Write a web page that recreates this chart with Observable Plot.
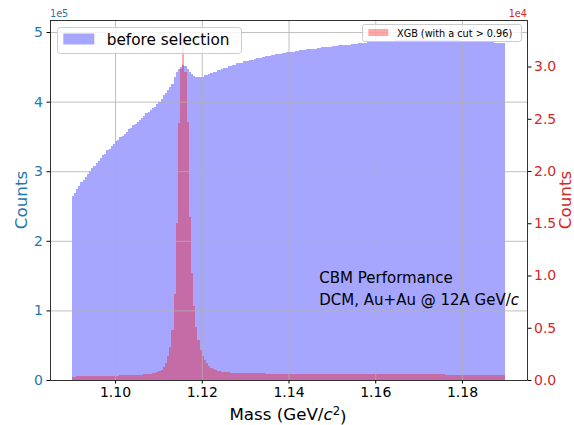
<!DOCTYPE html>
<html>
<head>
<meta charset="utf-8">
<script src="https://cdn.jsdelivr.net/npm/d3@7"></script>
<script src="https://cdn.jsdelivr.net/npm/@observablehq/plot@0.6"></script>
<style>
  html, body { margin: 0; padding: 0; background: #fff; }
  #chart { width: 574px; height: 425px; }
</style>
</head>
<body>
<div id="chart"></div>
<script>
// ---- data ----
const binLow = 1.09;        // GeV/c^2, first bin edge
const binWidth = 0.0005;    // GeV/c^2

// "before selection" counts per bin, in thousands (left axis)
const beforeSelectionK = [
  265, 269, 275, 279, 284, 287, 292, 296, 300, 305, 307, 312, 315, 319, 323, 325, 330, 332, 336, 339,
  343, 345, 349, 351, 354, 357, 360, 362, 366, 368, 371, 374, 377, 379, 383, 385, 388, 391, 393, 397,
  400, 404, 409, 413, 417, 421, 425, 436, 443, 447, 450, 453, 451, 447, 442, 439, 437, 436, 435, 435,
  436, 438, 438, 440, 441, 443, 443, 445, 446, 447, 449, 449, 451, 451, 453, 453, 455, 456, 456, 458,
  458, 459, 460, 460, 461, 462, 463, 463, 464, 465, 465, 466, 467, 467, 468, 468, 469, 470, 470, 471,
  471, 472, 472, 473, 473, 474, 474, 474, 475, 475, 476, 476, 476, 477, 477, 478, 478, 478, 479, 479,
  480, 480, 480, 481, 481, 481, 482, 482, 482, 483, 483, 483, 484, 484, 484, 484, 485, 485, 485, 485,
  486, 486, 486, 486, 487, 487, 487, 487, 487, 488, 488, 488, 488, 488, 488, 488, 489, 489, 488, 489,
  489, 489, 489, 489, 489, 489, 489, 489, 489, 489, 489, 488, 489, 488, 488, 488, 488, 488, 488, 487,
  487, 487, 487, 487, 487, 486, 486, 486, 486, 486, 485, 485, 485, 485, 485, 484, 484, 484, 484, 484
];

// "XGB (with a cut > 0.96)" counts per bin (right axis)
const xgbCounts = [
  330, 332, 338, 341, 346, 349, 355, 357, 362, 366, 370, 373, 379, 383, 388, 392, 398, 402, 408, 414,
  420, 426, 432, 440, 447, 455, 462, 471, 480, 490, 500, 510, 520, 535, 552, 572, 595, 625, 700, 770,
  870, 1000, 1250, 1650, 2250, 3200, 4800, 8200, 15000, 24600, 29800, 32800, 29500, 24700, 15600, 10200, 7100, 5100, 3800, 2900,
  2300, 1900, 1580, 1330, 1150, 1020, 940, 880, 830, 790, 760, 740, 725, 712, 700, 690, 683, 676, 670, 664,
  658, 652, 648, 644, 640, 636, 632, 628, 625, 622, 619, 616, 613, 610, 608, 606, 604, 602, 600, 598,
  596, 594, 592, 590, 588, 586, 585, 583, 581, 580, 578, 577, 575, 574, 572, 571, 570, 568, 567, 566,
  565, 564, 563, 562, 561, 560, 559, 558, 557, 556, 555, 555, 554, 553, 552, 551, 551, 550, 549, 548,
  548, 547, 546, 546, 545, 544, 544, 543, 542, 542, 541, 540, 540, 539, 538, 538, 537, 536, 536, 535,
  534, 534, 533, 532, 532, 531, 530, 530, 529, 528, 528, 527, 526, 526, 525, 524, 524, 523, 522, 522,
  521, 520, 520, 519, 518, 518, 517, 516, 516, 515, 514, 514, 513, 512, 512, 511, 510, 510, 509, 508
];

const xTicks = [1.10, 1.12, 1.14, 1.16, 1.18];
const leftTicks = [0, 1e5, 2e5, 3e5, 4e5, 5e5];
const rightTicks = [0, 0.5e4, 1.0e4, 1.5e4, 2.0e4, 2.5e4, 3.0e4];

const xDomain = [1.085, 1.195];
const yLeftMax = 5.173e5;
const yRightMax = 3.445e4;

const legendLabels = ["before selection", "XGB (with a cut > 0.96)"];
const noteLines = ["CBM Performance", "DCM, Au+Au @ 12A GeV/"];

// ---- build ----
const BLUE_TXT = "#1f77b4";
const RED_TXT = "#d62728";
const k = yLeftMax / yRightMax; // right -> left scale factor

function stepTable(vals, factor) {
  const rows = vals.map((v, i) => ({x: binLow + i * binWidth, v: v * factor}));
  rows.push({x: binLow + vals.length * binWidth, v: vals[vals.length - 1] * factor});
  return rows;
}
const blueRows = stepTable(beforeSelectionK, 1000);
const redRows = stepTable(xgbCounts, k);

const chart = Plot.plot({
  width: 574,
  height: 425,
  marginLeft: 50,
  marginRight: 47,
  marginTop: 20,
  marginBottom: 45,
  style: {fontFamily: "DejaVu Sans", fontSize: "14px", background: "white", overflow: "visible"},
  x: {domain: xDomain},
  y: {domain: [0, yLeftMax]},
  marks: [
    Plot.areaY(blueRows, {x: "x", y: "v", curve: "step-after", fill: "blue", fillOpacity: 0.35, shapeRendering: "crispEdges"}),
    Plot.areaY(redRows, {x: "x", y: "v", curve: "step-after", fill: "red", fillOpacity: 0.35, shapeRendering: "crispEdges"}),
    Plot.gridX(xTicks, {stroke: "#b0b0b0", strokeOpacity: 1, strokeWidth: 0.8}),
    Plot.gridY(leftTicks.filter(t => t > 0), {stroke: "#b0b0b0", strokeOpacity: 1, strokeWidth: 0.8}),
    Plot.frame({stroke: "black", strokeWidth: 0.8}),
    Plot.axisX(xTicks, {tickSize: 3.5, tickPadding: 3, tickFormat: d3.format(".2f"), label: null, fontSize: 14, fill: "black"}),
    Plot.axisY(leftTicks, {anchor: "left", tickSize: 3.5, tickPadding: 4, tickFormat: d => String(Math.round(d / 1e5)), label: null, fontSize: 14, fill: BLUE_TXT}),
    Plot.axisY(rightTicks.map(t => t * k), {anchor: "right", tickSize: 3.5, tickPadding: 3, tickFormat: d => (d / k / 1e4).toFixed(1), label: null, fontSize: 14, fill: RED_TXT})
  ]
});
document.getElementById("chart").appendChild(chart);

// ---- decorations (text, legends) ----
const svg = d3.select(chart);
const g = svg.append("g").attr("font-family", "DejaVu Sans").attr("text-anchor", "start");

// offset texts
g.append("text").attr("x", 50).attr("y", 16.5).attr("font-size", 9.7).attr("fill", BLUE_TXT).attr("text-anchor", "start").text("1e5");
g.append("text").attr("x", 527).attr("y", 16.5).attr("font-size", 9.7).attr("fill", RED_TXT).attr("text-anchor", "end").text("1e4");

// axis labels
g.append("text").attr("transform", "translate(26.5,200) rotate(-90)").attr("text-anchor", "middle")
  .attr("font-size", 16.7).attr("fill", BLUE_TXT).text("Counts");
g.append("text").attr("transform", "translate(570.5,200) rotate(-90)").attr("text-anchor", "middle")
  .attr("font-size", 16.7).attr("fill", RED_TXT).text("Counts");
const xl = g.append("text").attr("x", 288).attr("y", 420).attr("text-anchor", "middle").attr("font-size", 16.7).attr("fill", "black");
xl.append("tspan").text("Mass (GeV/");
xl.append("tspan").attr("font-style", "italic").text("c");
xl.append("tspan").attr("dy", "-0.42em").attr("font-size", "0.7em").text("2");
xl.append("tspan").attr("dy", "0.42em").text(")");

// legend 1
g.append("rect").attr("x", 57.5).attr("y", 27.5).attr("width", 184).attr("height", 26).attr("rx", 3)
  .attr("fill", "white").attr("fill-opacity", 0.8).attr("stroke", "#cccccc").attr("stroke-width", 1);
g.append("rect").attr("x", 63.3).attr("y", 33.5).attr("width", 31).attr("height", 11)
  .attr("fill", "blue").attr("fill-opacity", 0.35);
g.append("text").attr("x", 106.7).attr("y", 45).attr("font-size", 15.3).attr("fill", "black").attr("text-anchor", "start").text(legendLabels[0]);

// legend 2
g.append("rect").attr("x", 362.5).attr("y", 24.5).attr("width", 159).attr("height", 17).attr("rx", 2)
  .attr("fill", "white").attr("fill-opacity", 0.8).attr("stroke", "#cccccc").attr("stroke-width", 1);
g.append("rect").attr("x", 368.3).attr("y", 29).attr("width", 20).attr("height", 7)
  .attr("fill", "red").attr("fill-opacity", 0.35);
g.append("text").attr("x", 397).attr("y", 36.6).attr("font-size", 9.7).attr("fill", "black").attr("text-anchor", "start").text(legendLabels[1]);

// annotation
g.append("text").attr("x", 319.3).attr("y", 283.3).attr("font-size", 15).attr("fill", "black").attr("text-anchor", "start").text(noteLines[0]);
const n2 = g.append("text").attr("x", 319.3).attr("y", 305).attr("font-size", 15).attr("fill", "black").attr("text-anchor", "start");
n2.append("tspan").text(noteLines[1]);
n2.append("tspan").attr("font-style", "italic").text("c");
</script>
</body>
</html>
